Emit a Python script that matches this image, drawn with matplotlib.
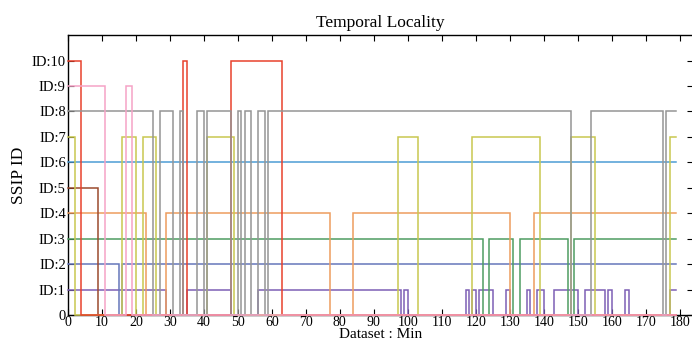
import matplotlib
matplotlib.use("Agg")
import matplotlib.pyplot as plt

# on-intervals (start, end) in minutes for each SSIP ID
END = 179
id1 = [(0, 29), (35, 48), (56, 98), (99, 100), (117, 118), (119, 120), (121, 125),
       (129, 130), (135, 136), (138, 140), (143, 150), (152, 158), (159, 160),
       (164, 165), (177, 179)]
id2 = [(0, 15), (16, 179)]
id3 = [(0, 122), (124, 131), (133, 147), (149, 179)]
id4 = [(0, 23), (29, 77), (84, 130), (137, 179)]
id5 = [(0, 9)]
id6 = [(0, 179)]
id7 = [(0, 2), (16, 20), (22, 26), (41, 49), (97, 103), (119, 139), (148, 155), (177, 179)]
id8 = [(0, 25), (27, 31), (33, 34), (38, 40), (41, 48), (50, 51), (52, 54), (56, 58),
       (59, 148), (154, 175), (176, 179)]
id9 = [(0, 11), (17, 19)]
id10 = [(0, 4), (34, 35), (48, 63)]

ytick_labels = ['0', 'ID:1', 'ID:2', 'ID:3', 'ID:4', 'ID:5', 'ID:6', 'ID:7', 'ID:8', 'ID:9', 'ID:10']

colors = {1: '#7d5fb5', 2: '#6677bb', 3: '#4e9d62', 4: '#ee9d5e', 5: '#9b4a2e',
          6: '#4d9dd4', 7: '#c9c850', 8: '#959595', 9: '#f5a3c6', 10: '#e8412c'}


def square(iv, level):
    xs, ys = [], []
    if iv[0][0] > 0:
        xs.append(0); ys.append(0)
    for s, e in iv:
        if s > 0:
            xs += [s, s]; ys += [0, level]
        else:
            xs.append(0); ys.append(level)
        xs.append(e); ys.append(level)
        if e < END:
            xs.append(e); ys.append(0)
    if iv[-1][1] < END:
        xs.append(END); ys.append(0)
    return xs, ys


plt.rcParams['font.family'] = ['Liberation Serif', 'DejaVu Serif']

fig = plt.figure(figsize=(6.92, 3.41), dpi=100)
ax = fig.add_axes([0.098, 0.076, 0.904, 0.821])

series = {1: id1, 2: id2, 3: id3, 4: id4, 5: id5, 6: id6, 7: id7, 10: id10, 8: id8, 9: id9}
for lvl, iv in series.items():
    xs, ys = square(iv, lvl)
    z = 3.2 if lvl == 9 else 3
    ax.plot(xs, ys, color=colors[lvl], lw=1.1, solid_joinstyle='miter',
            zorder=z, clip_on=False)

ax.set_xlim(0, 184)
ax.set_ylim(0, 11)
ax.set_xticks(range(0, 181, 10))
ax.set_yticks(range(0, 11))
ax.set_yticklabels(ytick_labels)
ax.tick_params(direction='in', top=True, right=True, length=4, width=0.8,
               labelsize=10.5, pad=1.5)
ax.tick_params(axis='x', pad=1, labelsize=10)
for sp in ax.spines.values():
    sp.set_linewidth(1.0)

ax.set_title('Temporal Locality', fontsize=12.5, pad=6)
ax.set_xlabel('Dataset : Min', fontsize=11, va='bottom')
ax.xaxis.set_label_coords(0.5, -0.094)
ax.set_ylabel('SSIP ID', fontsize=12.5, labelpad=3)

fig.savefig('out.png', dpi=100)
